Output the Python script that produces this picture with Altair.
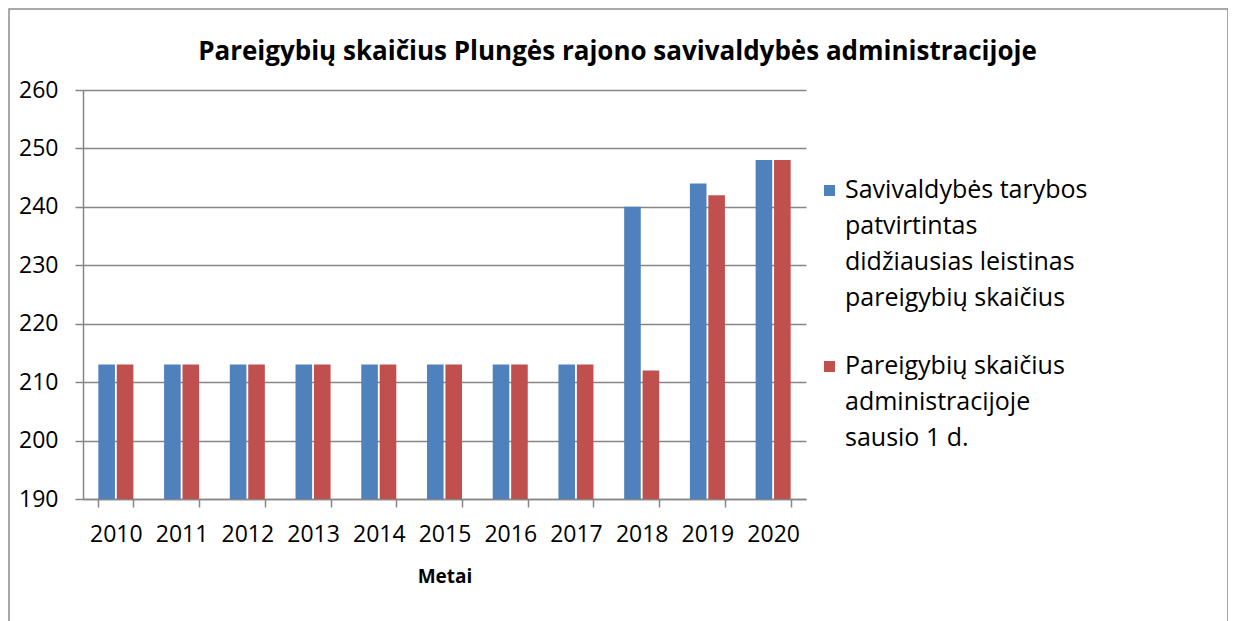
import altair as alt
import pandas as pd

years = ["2010", "2011", "2012", "2013", "2014", "2015", "2016", "2017", "2018", "2019", "2020"]
approved = [213, 213, 213, 213, 213, 213, 213, 213, 240, 244, 248]
actual = [213, 213, 213, 213, 213, 213, 213, 213, 212, 242, 248]
series_names = [
    "Savivaldybės tarybos|patvirtintas|didžiausias leistinas|pareigybių skaičius",
    "Pareigybių skaičius|administracijoje|sausio 1 d.",
]
colors = ["#4F81BD", "#C0504D"]
y_ticks = [190, 200, 210, 220, 230, 240, 250, 260]

rows = []
for i, y in enumerate(years):
    rows.append({"Metai": y, "Serija": series_names[0], "Reikšmė": approved[i]})
    rows.append({"Metai": y, "Serija": series_names[1], "Reikšmė": actual[i]})
df = pd.DataFrame(rows)

FONT = "Open Sans"
FS = 23
LFS = 25
DY = -13

bars = alt.Chart(df).mark_bar().encode(
    x=alt.X(
        "Metai:N",
        sort=years,
        title="Metai",
        scale=alt.Scale(paddingInner=0.467, paddingOuter=0.2335),
        axis=alt.Axis(
            labelAngle=0,
            tickBand="extent",
            grid=False,
            tickSize=8,
            labelPadding=16 - DY,
            titlePadding=21,
            titleFontWeight="bold",
            titleFontSize=19,
        ),
    ),
    xOffset=alt.XOffset("Serija:N", sort=series_names,
                        scale=alt.Scale(paddingInner=0.1, paddingOuter=0)),
    y=alt.Y(
        "Reikšmė:Q",
        title=None,
        scale=alt.Scale(domain=[190, 260], zero=False, nice=False),
        axis=alt.Axis(values=y_ticks, tickSize=8, labelPadding=17, labelOffset=-DY, grid=True),
    ),
    y2=alt.datum(190),
    color=alt.Color(
        "Serija:N",
        sort=series_names,
        scale=alt.Scale(domain=series_names, range=colors),
        legend=alt.Legend(
            title=None,
            orient="none",
            legendX=734,
            legendY=88,
            symbolType="square",
            symbolSize=121,
            symbolStrokeWidth=0,
            labelExpr="split(datum.label, '|')",
            labelFontSize=LFS,
            labelFont=FONT,
            labelLimit=0,
            labelOffset=3,
            labelBaseline="top",
            rowPadding=42,
            padding=0,
        ),
    ),
)

frame_df = pd.DataFrame({"f": [0]})
frame = alt.Chart(frame_df).mark_rect(filled=False, stroke="#8c8c8c", strokeWidth=1.5).encode(
    x=alt.value(-74),
    x2=alt.value(1145),
    y=alt.value(-81),
    y2=alt.value(560),
)

chart = alt.layer(frame, bars).properties(
    width=723,
    height=409,
    padding={"left": 75, "top": 82, "right": 422, "bottom": 122},
    autosize=alt.AutoSizeParams(type="none"),
    title=alt.TitleParams(
        "Pareigybių skaičius Plungės rajono savivaldybės administracijoje",
        fontSize=26,
        font=FONT,
        fontWeight="bold",
        anchor="middle",
        frame="group",
        dx=173,
        offset=-78,
        baseline="alphabetic",
        color="#000000",
    ),
).configure(
    style={"guide-label": {"lineHeight": 36, "dy": DY}}
).configure_axis(
    labelFont=FONT,
    labelFontSize=FS,
    labelColor="#000000",
    titleFont=FONT,
    titleColor="#000000",
    domainColor="#868686",
    domainWidth=1.5,
    tickColor="#868686",
    tickWidth=1.5,
    gridColor="#868686",
    gridWidth=1.5,
).configure_view(
    stroke=None
).configure_legend(
    labelColor="#000000"
)

chart.save("out.html", embed_options={"renderer": "svg", "actions": False})
